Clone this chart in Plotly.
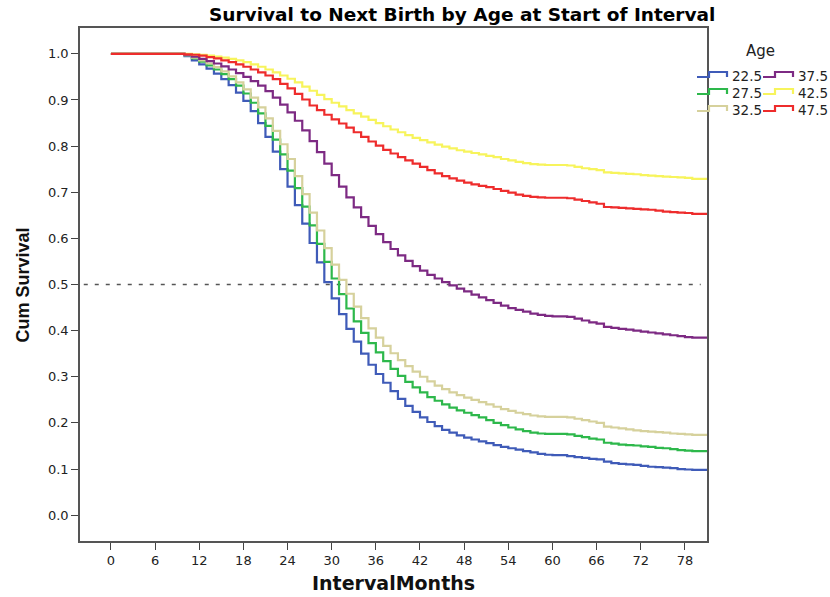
import plotly.graph_objects as go

# Kaplan-Meier style survival to next birth, by age group at start of interval
months = list(range(0, 82))

surv_225 = [1.0] * 10 + [
    0.995, 0.986, 0.977, 0.968, 0.957, 0.945, 0.932, 0.916, 0.898, 0.876,
    0.850, 0.820, 0.788, 0.750, 0.712, 0.672, 0.632, 0.590, 0.548, 0.505,
    0.470, 0.436, 0.404, 0.376, 0.350, 0.326, 0.306, 0.287, 0.269, 0.252,
    0.237, 0.224, 0.212, 0.202, 0.193, 0.185, 0.179, 0.173, 0.168, 0.164,
    0.160, 0.156, 0.152, 0.148, 0.145, 0.142, 0.139, 0.136, 0.133, 0.131,
    0.130, 0.130, 0.128, 0.126, 0.124, 0.122, 0.121, 0.116, 0.113, 0.111,
    0.110, 0.109, 0.107, 0.105, 0.104, 0.103, 0.102, 0.100, 0.099, 0.098,
    0.098, 0.098]

surv_275 = [1.0] * 10 + [
    0.997, 0.990, 0.983, 0.975, 0.966, 0.956, 0.945, 0.931, 0.914, 0.894,
    0.871, 0.844, 0.814, 0.782, 0.747, 0.709, 0.669, 0.628, 0.588, 0.549,
    0.513, 0.479, 0.448, 0.420, 0.395, 0.373, 0.353, 0.334, 0.317, 0.302,
    0.289, 0.277, 0.266, 0.256, 0.248, 0.240, 0.233, 0.227, 0.222, 0.217,
    0.212, 0.206, 0.200, 0.195, 0.190, 0.186, 0.182, 0.179, 0.177, 0.176,
    0.176, 0.176, 0.175, 0.172, 0.169, 0.166, 0.164, 0.157, 0.155, 0.153,
    0.152, 0.151, 0.149, 0.148, 0.146, 0.145, 0.143, 0.141, 0.140, 0.139,
    0.139, 0.139]

surv_325 = [1.0] * 10 + [
    0.997, 0.992, 0.986, 0.979, 0.971, 0.962, 0.951, 0.938, 0.923, 0.905,
    0.884, 0.860, 0.833, 0.804, 0.772, 0.735, 0.696, 0.656, 0.617, 0.579,
    0.543, 0.510, 0.480, 0.452, 0.427, 0.405, 0.385, 0.367, 0.351, 0.336,
    0.323, 0.311, 0.300, 0.290, 0.281, 0.273, 0.266, 0.260, 0.255, 0.250,
    0.245, 0.240, 0.235, 0.230, 0.226, 0.222, 0.219, 0.216, 0.214, 0.213,
    0.213, 0.213, 0.212, 0.209, 0.206, 0.203, 0.200, 0.192, 0.190, 0.188,
    0.186, 0.184, 0.182, 0.181, 0.180, 0.179, 0.177, 0.176, 0.175, 0.174,
    0.174, 0.174]

surv_375 = [1.0] * 10 + [
    0.998, 0.994, 0.989, 0.984, 0.979, 0.973, 0.966, 0.958, 0.950, 0.941,
    0.931, 0.919, 0.905, 0.890, 0.873, 0.855, 0.834, 0.811, 0.787, 0.762,
    0.737, 0.712, 0.689, 0.667, 0.646, 0.627, 0.609, 0.592, 0.577, 0.563,
    0.551, 0.540, 0.530, 0.521, 0.513, 0.505, 0.498, 0.491, 0.485, 0.478,
    0.472, 0.466, 0.460, 0.454, 0.449, 0.445, 0.441, 0.437, 0.434, 0.432,
    0.431, 0.431, 0.430, 0.426, 0.422, 0.418, 0.415, 0.408, 0.406, 0.404,
    0.402, 0.400, 0.398, 0.396, 0.394, 0.392, 0.390, 0.388, 0.386, 0.385,
    0.385, 0.385]

surv_425 = [1.0] * 10 + [
    1.000, 0.999, 0.998, 0.996, 0.994, 0.992, 0.989, 0.986, 0.982, 0.977,
    0.972, 0.966, 0.960, 0.953, 0.946, 0.938, 0.929, 0.920, 0.911, 0.902,
    0.894, 0.886, 0.878, 0.871, 0.864, 0.857, 0.850, 0.843, 0.836, 0.830,
    0.824, 0.818, 0.813, 0.808, 0.803, 0.799, 0.795, 0.791, 0.788, 0.785,
    0.782, 0.779, 0.776, 0.772, 0.769, 0.766, 0.763, 0.761, 0.760, 0.759,
    0.759, 0.759, 0.758, 0.755, 0.752, 0.750, 0.748, 0.743, 0.742, 0.741,
    0.740, 0.739, 0.737, 0.736, 0.735, 0.734, 0.733, 0.732, 0.731, 0.729,
    0.729, 0.729]

surv_475 = [1.0] * 10 + [
    0.999, 0.998, 0.996, 0.993, 0.990, 0.986, 0.982, 0.977, 0.972, 0.966,
    0.960, 0.953, 0.945, 0.935, 0.925, 0.913, 0.901, 0.888, 0.878, 0.868,
    0.858, 0.849, 0.840, 0.830, 0.820, 0.810, 0.801, 0.792, 0.784, 0.776,
    0.769, 0.762, 0.755, 0.748, 0.741, 0.735, 0.730, 0.725, 0.721, 0.717,
    0.714, 0.711, 0.707, 0.703, 0.699, 0.695, 0.692, 0.690, 0.689, 0.688,
    0.688, 0.688, 0.687, 0.684, 0.681, 0.678, 0.675, 0.668, 0.667, 0.666,
    0.665, 0.664, 0.663, 0.662, 0.660, 0.658, 0.657, 0.656, 0.655, 0.653,
    0.653, 0.653]

age_labels = ["22.5", "27.5", "32.5", "37.5", "42.5", "47.5"]
series = [surv_225, surv_275, surv_325, surv_375, surv_425, surv_475]
colors = ["#3F5BB8", "#2DB84B", "#D6D19C", "#7D2A83", "#F7F45C", "#EE2C2C"]

x_ticks = list(range(0, 79, 6))
y_ticks = [round(i * 0.1, 1) for i in range(11)]

W_FIG, H_FIG = 830, 597
L, R, T, B = 80, 707, 28, 541


def px_x(px):
    return (px - L) / (R - L)


def px_y(py):
    return (B - py) / (B - T)


fig = go.Figure()
for label, vals, col in zip(age_labels, series, colors):
    fig.add_trace(go.Scatter(
        x=months, y=vals, mode="lines", name=label,
        line=dict(color=col, width=2.2, shape="hv"),
        showlegend=False, hoverinfo="skip",
    ))

shapes = [dict(type="line", xref="paper", yref="y", x0=0.006, x1=0.99,
               y0=0.5, y1=0.5, line=dict(color="#555555", width=1.6,
                                         dash="4px,7px"), layer="below")]
annotations = []

# legend: two columns of step glyphs with labels
legend_cols = [(697, 730), (763, 796)]
legend_rows = [76, 93, 110]
for i, (label, col) in enumerate(zip(age_labels, colors)):
    gx, tx = legend_cols[i // 3]
    yc = legend_rows[i % 3]
    lo, hi = yc + 1, yc - 4
    path = (f"M {px_x(gx)},{px_y(lo)} L {px_x(gx + 12)},{px_y(lo)} "
            f"L {px_x(gx + 12)},{px_y(hi)} L {px_x(gx + 30)},{px_y(hi)} "
            f"L {px_x(gx + 30)},{px_y(lo)}")
    shapes.append(dict(type="path", xref="paper", yref="paper", path=path,
                       line=dict(color=col, width=2.2)))
    annotations.append(dict(xref="paper", yref="paper", x=px_x(tx), y=px_y(yc),
                            text=label, showarrow=False, xanchor="left",
                            yanchor="middle",
                            font=dict(family="DejaVu Sans", size=13.5,
                                      color="#222222")))

annotations.append(dict(xref="paper", yref="paper", x=px_x(760), y=px_y(51),
                        text="Age", showarrow=False, xanchor="center",
                        yanchor="middle",
                        font=dict(family="DejaVu Sans", size=15,
                                  color="#222222")))
annotations.append(dict(xref="paper", yref="paper", x=px_x(22), y=0.5,
                        text="<b>Cum Survival</b>", showarrow=False,
                        textangle=-90, xanchor="center", yanchor="middle",
                        font=dict(family="Liberation Sans", size=18,
                                  color="#111111")))
annotations.append(dict(xref="paper", yref="paper", x=px_x(393), y=px_y(583),
                        text="<b>IntervalMonths</b>", showarrow=False,
                        xanchor="center", yanchor="middle",
                        font=dict(family="DejaVu Sans", size=19,
                                  color="#111111")))
annotations.append(dict(xref="paper", yref="paper", x=px_x(462), y=px_y(15),
                        text="<b>Survival to Next Birth by Age at Start of Interval</b>",
                        showarrow=False, xanchor="center", yanchor="middle",
                        font=dict(family="DejaVu Sans", size=18.5,
                                  color="#000000")))

axis_common = dict(showgrid=False, zeroline=False, showline=True,
                   linecolor="#555555", linewidth=1.6, mirror=True,
                   ticks="outside", ticklen=7, tickwidth=1.4,
                   tickcolor="#444444",
                   tickfont=dict(family="DejaVu Sans", size=13,
                                 color="#222222"))

fig.update_layout(
    width=W_FIG, height=H_FIG,
    margin=dict(l=L, r=W_FIG - R, t=T, b=H_FIG - B),
    paper_bgcolor="white", plot_bgcolor="white",
    xaxis=dict(range=[-4.2, 81.0], tickvals=x_ticks, **axis_common),
    yaxis=dict(range=[-0.056, 1.056], tickvals=y_ticks, tickformat=".1f",
               **axis_common),
    shapes=shapes, annotations=annotations,
)

fig.write_html("out.html")
